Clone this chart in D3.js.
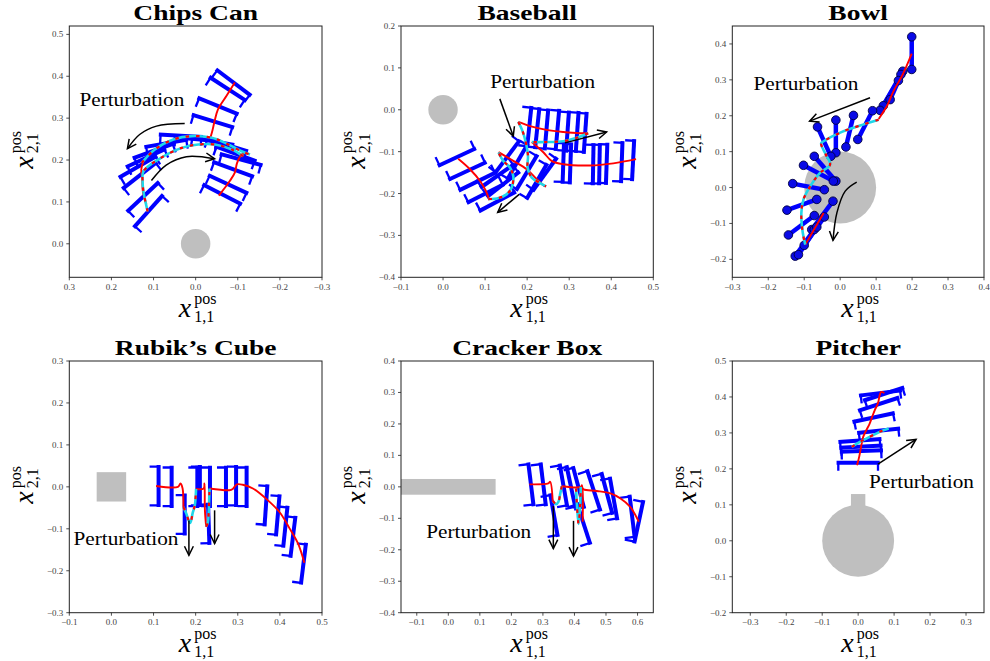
<!DOCTYPE html>
<html>
<head>
<meta charset="utf-8">
<script src="https://cdn.jsdelivr.net/npm/d3@7"></script>
<style>
  body { margin: 0; background: #fff; }
  svg { display: block; }
</style>
</head>
<body>
<script>
// ---------------------------------------------------------------
// Gripper trajectories around six objects (positions in metres).
// Grippers: centre x, centre y, approach direction (deg).
// Paths: red = nominal motion, cyan/red dashed = under perturbation.
// ---------------------------------------------------------------

// ---- Chips Can ----
const chipsXTicks = [0.3, 0.2, 0.1, 0.0, -0.1, -0.2, -0.3];
const chipsYTicks = [0.0, 0.1, 0.2, 0.3, 0.4, 0.5];
const chipsGripX = [-0.090, -0.076, -0.053, -0.041, 0.137, 0.118, 0.100, 0.070, 0.035, 0.000, -0.040, -0.074, -0.095, -0.108, -0.089, -0.077, -0.063, 0.133, 0.125, 0.112];
const chipsGripY = [0.385, 0.370, 0.329, 0.293, 0.184, 0.205, 0.222, 0.240, 0.258, 0.250, 0.245, 0.236, 0.215, 0.201, 0.178, 0.142, 0.118, 0.163, 0.112, 0.078];
const chipsGripDir = [-127, -123, -112, -107, -60, -65, -70, -80, -93, -95, -100, -107, -110, -105, -110, -115, -117, -52, -47, -42];
const chipsRed = [
  [[-0.093, 0.385], [-0.073, 0.353], [-0.053, 0.321], [-0.045, 0.293], [-0.040, 0.271], [-0.035, 0.253]],
  [[-0.055, 0.115], [-0.081, 0.150], [-0.093, 0.170], [-0.098, 0.192], [-0.106, 0.209], [-0.119, 0.219]],
  [[0.117, 0.094], [0.125, 0.122], [0.127, 0.154], [0.129, 0.178], [0.124, 0.197]]
];
const chipsDashed = [
  [[0.128, 0.193], [0.097, 0.225], [0.053, 0.249], [0.009, 0.257], [-0.038, 0.253], [-0.070, 0.241], [-0.109, 0.221], [-0.129, 0.213]],
  [[0.114, 0.077], [0.118, 0.095], [0.124, 0.125], [0.126, 0.150], [0.124, 0.173], [0.089, 0.201], [0.033, 0.229], [-0.006, 0.237], [-0.046, 0.237], [-0.086, 0.225], [-0.113, 0.209]]
];
const chipsArrows = [
  [[0.026, 0.287], [0.093, 0.281], [0.133, 0.261], [0.162, 0.227]],
  [[0.105, 0.151], [0.070, 0.188], [0.022, 0.208], [-0.045, 0.203]]
];
const chipsNote = [0.276, 0.330];

// ---- Baseball ----
const ballXTicks = [-0.1, 0.0, 0.1, 0.2, 0.3, 0.4, 0.5];
const ballYTicks = [-0.4, -0.3, -0.2, -0.1, 0.0, 0.1, 0.2];
const ballGripX = [0.033, 0.058, 0.082, 0.101, 0.129,
  0.129, 0.143, 0.153, 0.177, 0.199, 0.223, 0.242,
  0.205, 0.224, 0.246, 0.272, 0.296, 0.319, 0.338,
  0.286, 0.303, 0.357, 0.372, 0.389, 0.425, 0.452];
const ballGripY = [-0.113, -0.146, -0.171, -0.200, -0.219,
  -0.158, -0.178, -0.112, -0.124, -0.150, -0.171, -0.154,
  -0.041, -0.044, -0.047, -0.048, -0.052, -0.053, -0.055,
  -0.126, -0.128, -0.130, -0.130, -0.129, -0.125, -0.120];
const ballGripDir = [115, 115, 116, 117, 118,
  125, 128, 143, 150, 149, 150, 144,
  174, 174, 175, 175, 176, 176, 176,
  178, 178, 179, 179, 178, 178, 177];
const ballRed = [
  [[0.036, -0.117], [0.064, -0.142], [0.088, -0.170], [0.102, -0.194], [0.110, -0.216]],
  [[0.132, -0.101], [0.167, -0.122], [0.199, -0.142], [0.223, -0.166], [0.242, -0.183]],
  [[0.179, -0.029], [0.207, -0.039], [0.246, -0.048], [0.286, -0.053], [0.326, -0.056], [0.345, -0.056]],
  [[0.211, -0.077], [0.239, -0.102], [0.258, -0.122], [0.286, -0.130], [0.349, -0.133], [0.405, -0.128], [0.459, -0.118]]
];
const ballDashed = [
  [[0.108, -0.213], [0.128, -0.212], [0.151, -0.202], [0.163, -0.186], [0.167, -0.158], [0.159, -0.138], [0.143, -0.122], [0.132, -0.102]],
  [[0.179, -0.029], [0.189, -0.051], [0.197, -0.079], [0.202, -0.110], [0.201, -0.138], [0.211, -0.162], [0.231, -0.175], [0.245, -0.183]],
  [[0.345, -0.056], [0.318, -0.067], [0.286, -0.075], [0.246, -0.077], [0.211, -0.077]]
];
const ballArrows = [
  [[0.135, 0.026], [0.167, -0.063]],
  [[0.290, -0.079], [0.389, -0.053]],
  [[0.181, -0.202], [0.130, -0.245]]
];
const ballNote = [0.112, 0.052];

// ---- Bowl (finger-tip pairs) ----
const bowlXTicks = [-0.3, -0.2, -0.1, 0.0, 0.1, 0.2, 0.3, 0.4];
const bowlYTicks = [-0.2, -0.1, 0.0, 0.1, 0.2, 0.3, 0.4];
const bowlTipAX = [0.199, 0.174, 0.169, 0.162, 0.090, 0.037, -0.012, -0.063, -0.072, -0.102, -0.132, -0.148, -0.144, -0.020, -0.125, -0.116, -0.100];
const bowlTipAY = [0.420, 0.324, 0.315, 0.298, 0.214, 0.201, 0.188, 0.169, 0.087, 0.062, 0.011, -0.063, -0.132, -0.038, -0.191, -0.187, -0.161];
const bowlTipBX = [0.199, 0.139, 0.120, 0.111, 0.049, 0.016, -0.012, -0.026, -0.012, -0.019, -0.044, -0.065, -0.072, -0.079, -0.072, -0.065, -0.044];
const bowlTipBY = [0.329, 0.245, 0.228, 0.215, 0.134, 0.113, 0.097, 0.087, 0.018, 0.018, -0.006, -0.033, -0.078, -0.117, -0.117, -0.110, -0.082];
const bowlRed = [
  [[0.199, 0.373], [0.174, 0.315], [0.148, 0.268], [0.130, 0.227], [0.107, 0.191]],
  [[-0.097, -0.159], [-0.046, -0.071]]
];
const bowlDashed = [
  [[0.107, 0.189], [0.056, 0.173], [0.005, 0.155], [-0.046, 0.129], [-0.053, 0.123], [-0.040, 0.092], [-0.028, 0.064], [-0.056, 0.041], [-0.083, 0.004], [-0.102, -0.033], [-0.108, -0.071], [-0.104, -0.126], [-0.097, -0.159]]
];
const bowlArrows = [
  [[0.083, 0.250], [-0.085, 0.185]],
  [[0.046, 0.015], [0.014, -0.010], [-0.009, -0.070], [-0.020, -0.147]]
];
const bowlNote = [-0.241, 0.271];

// ---- Rubik's Cube ----
const cubeXTicks = [-0.1, 0.0, 0.1, 0.2, 0.3, 0.4, 0.5];
const cubeYTicks = [-0.3, -0.2, -0.1, 0.0, 0.1, 0.2, 0.3];
const cubeGripX = [0.112, 0.143, 0.174, 0.204, 0.210, 0.234, 0.231, 0.272, 0.296, 0.321, 0.367, 0.395, 0.413, 0.431, 0.456];
const cubeGripY = [0.002, 0.000, -0.066, 0.000, 0.002, 0.000, -0.088, 0.000, 0.002, 0.000, -0.044, -0.068, -0.095, -0.119, -0.183];
const cubeGripDir = [180, 180, 180, 180, 180, 180, 182, 180, 180, 180, 176, 175, 174, 173, 173];
const cubeRed = [
  [[0.106, 0.002], [0.158, 0.000], [0.164, 0.008], [0.169, -0.004], [0.171, -0.048]],
  [[0.201, -0.005], [0.219, -0.004], [0.221, 0.008], [0.222, -0.056], [0.225, -0.095]],
  [[0.233, -0.004], [0.280, -0.008], [0.288, -0.005], [0.298, 0.006], [0.312, 0.005], [0.336, -0.004], [0.367, -0.028], [0.399, -0.060], [0.423, -0.099], [0.443, -0.135], [0.458, -0.181]]
];
const cubeDashed = [
  [[0.171, -0.048], [0.177, -0.062], [0.187, -0.086], [0.193, -0.062], [0.198, -0.044], [0.201, -0.005]],
  [[0.225, -0.095], [0.229, -0.085], [0.231, -0.060], [0.233, -0.004]]
];
const cubeArrows = [
  [[0.184, -0.080], [0.184, -0.163]],
  [[0.245, -0.056], [0.245, -0.135]]
];
const cubeNote = [-0.090, -0.139];

// ---- Cracker Box ----
const boxXTicks = [-0.1, 0.0, 0.1, 0.2, 0.3, 0.4, 0.5, 0.6];
const boxYTicks = [-0.4, -0.3, -0.2, -0.1, 0.0, 0.1, 0.2, 0.3, 0.4];
const boxGripX = [0.262, 0.301, 0.335, 0.365, 0.389, 0.413, 0.429, 0.461, 0.503, 0.524, 0.583, 0.604];
const boxGripY = [0.008, 0.008, -0.090, 0.005, 0.000, -0.002, -0.117, -0.011, -0.021, -0.037, -0.095, -0.111];
const boxGripDir = [187, 187, 190, 190, 192, 195, 198, 198, 195, 190, 187, 168];
const boxRed = [
  [[0.257, 0.008], [0.317, 0.011], [0.323, 0.016], [0.331, -0.044]],
  [[0.360, 0.002], [0.408, -0.002], [0.420, 0.000], [0.424, 0.005], [0.426, -0.111]],
  [[0.424, -0.002], [0.429, -0.008], [0.471, -0.013], [0.514, -0.021], [0.546, -0.037], [0.577, -0.064], [0.604, -0.111]]
];
const boxDashed = [
  [[0.331, -0.044], [0.342, -0.055], [0.349, -0.048], [0.355, -0.021], [0.360, 0.002]],
  [[0.405, -0.005], [0.408, -0.060], [0.413, -0.118], [0.418, -0.060], [0.420, 0.000]]
];
const boxArrows = [
  [[0.333, -0.061], [0.333, -0.196]],
  [[0.397, -0.108], [0.397, -0.220]]
];
const boxNote = [-0.070, -0.164];

// ---- Pitcher ----
const pitcherXTicks = [-0.3, -0.2, -0.1, 0.0, 0.1, 0.2, 0.3];
const pitcherYTicks = [-0.2, -0.1, 0.0, 0.1, 0.2, 0.3, 0.4, 0.5];
const pitcherGripX = [0.000, 0.009, 0.008, 0.005, 0.057, 0.043, 0.057, 0.062, 0.071];
const pitcherGripY = [0.217, 0.250, 0.262, 0.279, 0.306, 0.343, 0.380, 0.411, 0.408];
const pitcherGripDir = [-90, -88, -87, -86, -84, -78, -72, -83, -72];
const pitcherRed = [
  [[-0.003, 0.210], [0.003, 0.234], [0.009, 0.266], [0.014, 0.289], [0.023, 0.308], [0.032, 0.326], [0.039, 0.345], [0.046, 0.363], [0.055, 0.382], [0.060, 0.405], [0.064, 0.414], [0.073, 0.411]]
];
const pitcherDashed = [
  [[-0.018, 0.261], [0.005, 0.275], [0.032, 0.289], [0.060, 0.303], [0.085, 0.312]]
];
const pitcherArrows = [
  [[0.055, 0.213], [0.161, 0.282]]
];
const pitcherNote = [0.030, 0.146];

// ---------------------------------------------------------------
// Figure layout
// ---------------------------------------------------------------
const W = 990, H = 661;
const COLS = [[69.3, 322], [401, 653.3], [732.3, 984]];
const ROWS = [[26, 277.3], [361, 612.7]];
const GRAY = "#bfbfbf";
const BLUE = "#0000ff";
const RED = "#ff0000";
const CYAN = "#1fd6e8";
const SERIF = "'Liberation Serif', 'Times New Roman', serif";

const panels = [
  { title: "Chips Can", col: 0, row: 0, xDom: [0.3, -0.3], yDom: [-0.08, 0.52],
    xTicks: chipsXTicks, yTicks: chipsYTicks, palm: 0.105, finger: 9,
    grip: [chipsGripX, chipsGripY, chipsGripDir], red: chipsRed, dashed: chipsDashed,
    arrows: chipsArrows, curvedArrows: true, note: chipsNote,
    objects: [{ type: "circle", cx: 0, cy: 0, r: 0.035 }] },
  { title: "Baseball", col: 1, row: 0, xDom: [-0.1, 0.5], yDom: [-0.4, 0.2],
    xTicks: ballXTicks, yTicks: ballYTicks, palm: 0.1, finger: 9,
    grip: [ballGripX, ballGripY, ballGripDir], red: ballRed, dashed: ballDashed,
    arrows: ballArrows, note: ballNote,
    objects: [{ type: "circle", cx: 0, cy: 0, r: 0.035 }] },
  { title: "Bowl", col: 2, row: 0, xDom: [-0.3, 0.4], yDom: [-0.25, 0.45],
    xTicks: bowlXTicks, yTicks: bowlYTicks,
    tips: [bowlTipAX, bowlTipAY, bowlTipBX, bowlTipBY], red: bowlRed, dashed: bowlDashed,
    arrows: bowlArrows, curvedArrows: true, note: bowlNote,
    objects: [{ type: "circle", cx: 0, cy: 0, r: 0.1 }] },
  { title: "Rubik\u2019s Cube", col: 0, row: 1, xDom: [-0.1, 0.5], yDom: [-0.3, 0.3],
    xTicks: cubeXTicks, yTicks: cubeYTicks, palm: 0.1, finger: 9,
    grip: [cubeGripX, cubeGripY, cubeGripDir], red: cubeRed, dashed: cubeDashed,
    arrows: cubeArrows, note: cubeNote,
    objects: [{ type: "rect", x0: -0.035, x1: 0.035, y0: -0.035, y1: 0.035 }] },
  { title: "Cracker Box", col: 1, row: 1, xDom: [-0.15, 0.65], yDom: [-0.4, 0.4],
    xTicks: boxXTicks, yTicks: boxYTicks, palm: 0.14, finger: 10,
    grip: [boxGripX, boxGripY, boxGripDir], red: boxRed, dashed: boxDashed,
    arrows: boxArrows, note: boxNote,
    objects: [{ type: "rect", x0: -0.2, x1: 0.15, y0: -0.025, y1: 0.025 }] },
  { title: "Pitcher", col: 2, row: 1, xDom: [-0.35, 0.35], yDom: [-0.2, 0.5],
    xTicks: pitcherXTicks, yTicks: pitcherYTicks, palm: 0.12, finger: 8,
    grip: [pitcherGripX, pitcherGripY, pitcherGripDir], red: pitcherRed, dashed: pitcherDashed,
    arrows: pitcherArrows, note: pitcherNote,
    objects: [{ type: "circle", cx: 0, cy: 0, r: 0.1 },
              { type: "rect", x0: -0.02, x1: 0.02, y0: 0.09, y1: 0.13 }] }
];

const svg = d3.select("body").append("svg")
  .attr("width", W).attr("height", H)
  .attr("font-family", SERIF);

const fmt = d3.format(".1f");
const rad = d => d * Math.PI / 180;

panels.forEach((p, i) => {
  const [x0, x1] = COLS[p.col];
  const [y0, y1] = ROWS[p.row];
  const xs = d3.scaleLinear().domain(p.xDom).range([x0, x1]);
  const ys = d3.scaleLinear().domain(p.yDom).range([y1, y0]);
  const k = Math.abs(xs(1) - xs(0)); // pixels per metre

  const g = svg.append("g");
  const clipId = "clip" + i;
  g.append("clipPath").attr("id", clipId)
    .append("rect").attr("x", x0).attr("y", y0).attr("width", x1 - x0).attr("height", y1 - y0);
  const data = g.append("g").attr("clip-path", `url(#${clipId})`);

  // object footprint
  p.objects.forEach(o => {
    if (o.type === "circle") {
      data.append("circle").attr("cx", xs(o.cx)).attr("cy", ys(o.cy))
        .attr("r", o.r * k).attr("fill", GRAY);
    } else {
      data.append("rect")
        .attr("x", Math.min(xs(o.x0), xs(o.x1))).attr("y", ys(o.y1))
        .attr("width", Math.abs(xs(o.x1) - xs(o.x0))).attr("height", ys(o.y0) - ys(o.y1))
        .attr("fill", GRAY);
    }
  });

  // parallel-jaw grippers: palm bar + two fingers along the approach direction
  if (p.grip) {
    const [gx, gy, gd] = p.grip;
    const palmHalf = p.palm / 2 * k, fingerOff = palmHalf * 0.92, fingerLen = p.finger;
    gx.forEach((x, j) => {
      const cx = xs(x), cy = ys(gy[j]);
      const a = rad(gd[j]);
      const ax = Math.cos(a), ay = -Math.sin(a);
      const px = Math.cos(a + Math.PI / 2), py = -Math.sin(a + Math.PI / 2);
      data.append("line")
        .attr("x1", cx - palmHalf * px).attr("y1", cy - palmHalf * py)
        .attr("x2", cx + palmHalf * px).attr("y2", cy + palmHalf * py)
        .attr("stroke", BLUE).attr("stroke-width", 4);
      [-1, 1].forEach(s => {
        const bx = cx + s * fingerOff * px, by = cy + s * fingerOff * py;
        data.append("line")
          .attr("x1", bx - 1.5 * ax).attr("y1", by - 1.5 * ay)
          .attr("x2", bx + fingerLen * ax).attr("y2", by + fingerLen * ay)
          .attr("stroke", BLUE).attr("stroke-width", 2.3);
      });
    });
  }

  // fingertip pairs (bowl)
  if (p.tips) {
    const [ax, ay, bx, by] = p.tips;
    ax.forEach((x, j) => {
      data.append("line")
        .attr("x1", xs(x)).attr("y1", ys(ay[j]))
        .attr("x2", xs(bx[j])).attr("y2", ys(by[j]))
        .attr("stroke", BLUE).attr("stroke-width", 4.5);
    });
    ax.forEach((x, j) => {
      [[x, ay[j]], [bx[j], by[j]]].forEach(t => {
        data.append("circle").attr("cx", xs(t[0])).attr("cy", ys(t[1])).attr("r", 4.3)
          .attr("fill", "#0a0ae6").attr("stroke", "#000040").attr("stroke-width", 0.9);
      });
    });
  }

  const line = d3.line().x(d => xs(d[0])).y(d => ys(d[1])).curve(d3.curveCatmullRom);

  p.red.forEach(seg => {
    data.append("path").attr("d", line(seg)).attr("fill", "none")
      .attr("stroke", RED).attr("stroke-width", 1.9).attr("stroke-linejoin", "round");
  });
  p.dashed.forEach(seg => {
    data.append("path").attr("d", line(seg)).attr("fill", "none")
      .attr("stroke", CYAN).attr("stroke-width", 2.6);
    data.append("path").attr("d", line(seg)).attr("fill", "none")
      .attr("stroke", RED).attr("stroke-width", 2.2).attr("stroke-dasharray", "3.5,7");
  });

  // perturbation arrows
  const arrowLine = d3.line().x(d => xs(d[0])).y(d => ys(d[1]))
    .curve(p.curvedArrows ? d3.curveCatmullRom : d3.curveLinear);
  p.arrows.forEach(pts => {
    const path = g.append("path").attr("d", arrowLine(pts)).attr("fill", "none")
      .attr("stroke", "#000").attr("stroke-width", 1.5);
    const node = path.node();
    const L = node.getTotalLength();
    const e = node.getPointAtLength(L), b = node.getPointAtLength(Math.max(0, L - 5));
    const ang = Math.atan2(e.y - b.y, e.x - b.x);
    const hl = 10, hw = 0.46;
    g.append("path")
      .attr("d", `M${e.x - hl * Math.cos(ang - hw)},${e.y - hl * Math.sin(ang - hw)}L${e.x},${e.y}L${e.x - hl * Math.cos(ang + hw)},${e.y - hl * Math.sin(ang + hw)}`)
      .attr("fill", "none").attr("stroke", "#000").attr("stroke-width", 1.5)
      .attr("stroke-linejoin", "miter");
  });

  g.append("text")
    .attr("transform", `translate(${xs(p.note[0])},${ys(p.note[1])}) scale(1.18,1)`)
    .attr("font-size", 18).attr("fill", "#000").text("Perturbation");

  // frame
  g.append("rect").attr("x", x0).attr("y", y0).attr("width", x1 - x0).attr("height", y1 - y0)
    .attr("fill", "none").attr("stroke", "#222").attr("stroke-width", 1);

  // ticks
  p.xTicks.forEach(t => {
    const X = xs(t);
    g.append("line").attr("x1", X).attr("x2", X).attr("y1", y1).attr("y2", y1 + 3)
      .attr("stroke", "#222").attr("stroke-width", 0.8);
    g.append("text").attr("x", X).attr("y", y1 + 12.5).attr("text-anchor", "middle")
      .attr("font-size", 9).attr("fill", "#444").text(fmt(t));
  });
  p.yTicks.forEach(t => {
    const Y = ys(t);
    g.append("line").attr("x1", x0 - 3).attr("x2", x0).attr("y1", Y).attr("y2", Y)
      .attr("stroke", "#222").attr("stroke-width", 0.8);
    g.append("text").attr("x", x0 - 6).attr("y", Y + 3).attr("text-anchor", "end")
      .attr("font-size", 9).attr("fill", "#444").text(fmt(t));
  });

  // title
  const cx = (x0 + x1) / 2, cy = (y0 + y1) / 2;
  g.append("text")
    .attr("transform", `translate(${cx},${y0 - 6}) scale(1.31,1)`)
    .attr("text-anchor", "middle").attr("font-weight", "bold").attr("font-size", 21)
    .attr("fill", "#000").text(p.title);

  // axis labels  x^{pos}_{1,1} and x^{pos}_{2,1}
  const axisLabel = (tx, ty, rot, sub) => {
    const lg = g.append("g").attr("transform", `translate(${tx},${ty}) rotate(${rot})`);
    lg.append("text").attr("x", -17).attr("y", 0).attr("font-style", "italic")
      .attr("font-size", 28).attr("fill", "#000").text("x");
    lg.append("text").attr("x", -1.5).attr("y", -12.7).attr("font-size", 16)
      .attr("fill", "#000").text("pos");
    lg.append("text").attr("x", -1.5).attr("y", 5).attr("font-size", 16)
      .attr("fill", "#000").text(sub);
  };
  axisLabel(cx, y1 + 39.4, 0, "1,1");
  axisLabel(x0 - 36, cy, -90, "2,1");
});
</script>
</body>
</html>
